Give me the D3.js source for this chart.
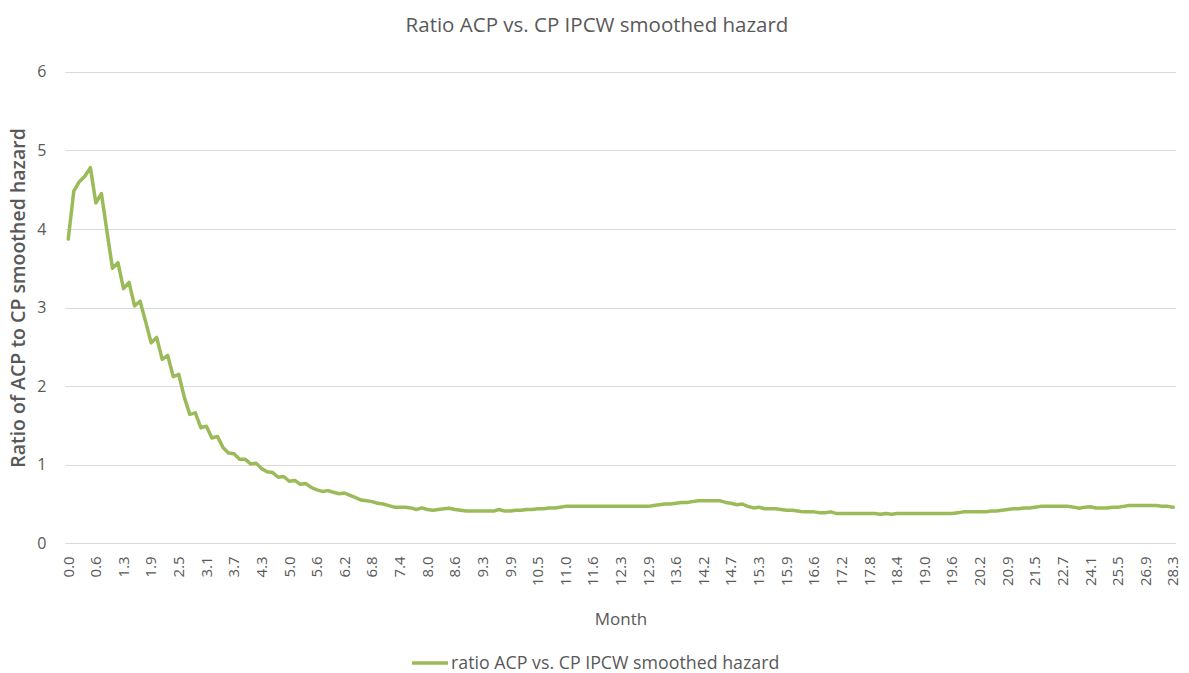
<!DOCTYPE html>
<html>
<head>
<meta charset="utf-8">
<script src="https://cdn.jsdelivr.net/npm/d3@7"></script>
<style>
  body { margin: 0; background: #fff; }
  text { font-family: "Open Sans", sans-serif; fill: #595959; }
</style>
</head>
<body>
<svg id="chart" width="1189" height="673"></svg>
<script>
// tick labels shown on the month axis (every 5th category)
var monthTicks = ['0.0', '0.6', '1.3', '1.9', '2.5', '3.1', '3.7', '4.3', '5.0', '5.6',
  '6.2', '6.8', '7.4', '8.0', '8.6', '9.3', '9.9', '10.5', '11.0', '11.6',
  '12.3', '12.9', '13.6', '14.2', '14.7', '15.3', '15.9', '16.6', '17.2', '17.8',
  '18.4', '19.0', '19.6', '20.2', '20.9', '21.5', '22.7', '24.1', '25.5', '26.9', '28.3'];

// ratio ACP vs. CP IPCW smoothed hazard, one value per category
var ratio = [
  3.87, 4.48, 4.60, 4.67, 4.78, 4.33, 4.45, 3.97, 3.50, 3.57,
  3.24, 3.32, 3.02, 3.08, 2.82, 2.55, 2.62, 2.34, 2.39, 2.12,
  2.15, 1.86, 1.64, 1.66, 1.47, 1.49, 1.34, 1.36, 1.22, 1.15,
  1.14, 1.07, 1.07, 1.01, 1.02, 0.95, 0.91, 0.90, 0.84, 0.85,
  0.79, 0.80, 0.75, 0.76, 0.71, 0.68, 0.66, 0.67, 0.65, 0.63,
  0.64, 0.61, 0.58, 0.55, 0.54, 0.53, 0.51, 0.50, 0.48, 0.46,
  0.46, 0.46, 0.45, 0.43, 0.45, 0.43, 0.42, 0.43, 0.44, 0.445,
  0.43, 0.42, 0.41, 0.41, 0.41, 0.41, 0.41, 0.41, 0.43, 0.41,
  0.41, 0.42, 0.42, 0.43, 0.43, 0.44, 0.44, 0.45, 0.45, 0.46,
  0.47, 0.47, 0.47, 0.47, 0.47, 0.47, 0.47, 0.47, 0.47, 0.47,
  0.47, 0.47, 0.47, 0.47, 0.47, 0.47, 0.48, 0.49, 0.50, 0.50,
  0.51, 0.52, 0.52, 0.53, 0.54, 0.54, 0.54, 0.54, 0.54, 0.52,
  0.51, 0.49, 0.50, 0.47, 0.45, 0.46, 0.44, 0.44, 0.44, 0.43,
  0.42, 0.42, 0.41, 0.40, 0.40, 0.40, 0.39, 0.39, 0.40, 0.38,
  0.38, 0.38, 0.38, 0.38, 0.38, 0.38, 0.38, 0.37, 0.38, 0.37,
  0.38, 0.38, 0.38, 0.38, 0.38, 0.38, 0.38, 0.38, 0.38, 0.38,
  0.38, 0.39, 0.40, 0.40, 0.40, 0.40, 0.40, 0.41, 0.41, 0.42,
  0.43, 0.44, 0.44, 0.45, 0.45, 0.46, 0.47, 0.47, 0.47, 0.47,
  0.47, 0.47, 0.46, 0.445, 0.46, 0.465, 0.45, 0.45, 0.45, 0.46,
  0.46, 0.47, 0.48, 0.48, 0.48, 0.48, 0.48, 0.48, 0.47, 0.47,
  0.46
];

var yTicks = [0, 1, 2, 3, 4, 5, 6];
var lineColor = '#9bbb59';

var svg = d3.select('#chart');
var plotLeft = 65.5, plotRight = 1176, plotTop = 71.7, plotBottom = 543.3;

var x = d3.scaleBand()
  .domain(d3.range(ratio.length))
  .range([plotLeft, plotRight]);

var y = d3.scaleLinear()
  .domain([0, 6])
  .range([plotBottom, plotTop]);

// gridlines
svg.append('g')
  .selectAll('line')
  .data(yTicks)
  .enter().append('line')
  .attr('x1', plotLeft).attr('x2', plotRight)
  .attr('y1', d => Math.round(y(d)) + 0.5)
  .attr('y2', d => Math.round(y(d)) + 0.5)
  .style('stroke', '#d9d9d9')
  .style('stroke-width', 1);

// y axis labels
var yAxis = svg.append('g')
  .attr('transform', 'translate(' + (plotLeft - 16) + ',0)')
  .call(d3.axisLeft(y).tickValues(yTicks).tickSize(0).tickFormat(d3.format('d')));
yAxis.select('.domain').remove();
yAxis.selectAll('text')
  .style('font-size', '16px')
  .style('fill', '#595959');

// x axis labels
var xAxis = svg.append('g')
  .attr('transform', 'translate(0,' + plotBottom + ')')
  .call(d3.axisBottom(x)
    .tickValues(d3.range(0, ratio.length, 5))
    .tickSize(0)
    .tickFormat(i => monthTicks[i / 5]));
xAxis.select('.domain').remove();
xAxis.selectAll('text')
  .style('font-size', '15px')
  .style('fill', '#595959')
  .attr('transform', 'rotate(-90)')
  .attr('x', -13)
  .attr('y', 0)
  .attr('dy', '0.35em')
  .style('text-anchor', 'end');

// the series
var line = d3.line()
  .x((d, i) => x(i) + x.bandwidth() / 2)
  .y(d => y(d));

svg.append('path')
  .datum(ratio)
  .attr('d', line)
  .style('fill', 'none')
  .style('stroke', lineColor)
  .style('stroke-width', 3.5)
  .style('stroke-linejoin', 'round')
  .style('stroke-linecap', 'round');

// titles
svg.append('text')
  .attr('x', 597).attr('y', 32)
  .attr('text-anchor', 'middle')
  .style('font-size', '20.5px')
  .text('Ratio ACP vs. CP IPCW smoothed hazard');

svg.append('text')
  .attr('transform', 'translate(25,298) rotate(-90)')
  .attr('text-anchor', 'middle')
  .style('font-size', '19.5px')
  .style('font-weight', '600')
  .text('Ratio of ACP to CP smoothed hazard');

svg.append('text')
  .attr('x', 621).attr('y', 625)
  .attr('text-anchor', 'middle')
  .style('font-size', '17px')
  .text('Month');

// legend
var legend = svg.append('g').attr('transform', 'translate(412,663)');
legend.append('line')
  .attr('x1', 0).attr('x2', 36)
  .style('stroke', lineColor)
  .style('stroke-width', 3.5);
legend.append('text')
  .attr('x', 39).attr('y', 0)
  .attr('dy', '0.35em')
  .style('font-size', '17.8px')
  .text('ratio ACP vs. CP IPCW smoothed hazard');
</script>
</body>
</html>
